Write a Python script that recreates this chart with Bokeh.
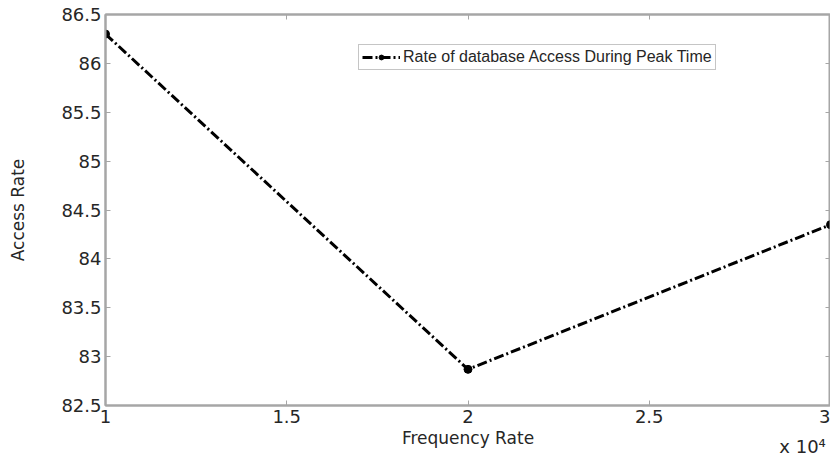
from bokeh.plotting import figure
from bokeh.models import Range1d, FixedTicker, LinearAxis, Legend, LegendItem, ColumnDataSource
from bokeh.embed import file_html
from bokeh.resources import INLINE

freq = [10000, 20000, 30000]
access = [86.3, 82.87, 84.35]
x_ticks = [10000, 15000, 20000, 25000, 30000]
x_tick_labels = ["1", "1.5", "2", "2.5", "3"]
y_ticks = [82.5, 83, 83.5, 84, 84.5, 85, 85.5, 86, 86.5]
y_tick_labels = ["82.5", "83", "83.5", "84", "84.5", "85", "85.5", "86", "86.5"]
series_name = "Rate of database Access During Peak Time"
x_label = "Frequency Rate"
y_label = "Access Rate"
x_multiplier = "x 10\u2074"
x_multiplier_pos = 29230

AX = "#a6a6a6"
TXT = "#262626"

p = figure(width=830, height=460, output_backend="svg", toolbar_location=None,
           x_range=Range1d(10000, 30000), y_range=Range1d(82.5, 86.5),
           min_border_left=105, min_border_right=0, min_border_top=14, min_border_bottom=55)
p.background_fill_color = "white"
p.border_fill_color = "white"
p.outline_line_color = AX
p.outline_line_width = 2
p.xgrid.visible = False
p.ygrid.visible = False

src = ColumnDataSource(dict(x=freq, y=access))
ln = p.line("x", "y", source=src, line_color="black", line_width=3, line_dash="10 3 2 3")
mk = p.scatter("x", "y", source=src, size=8, fill_color="black", line_color="black")

xa = p.xaxis[0]
xa.ticker = FixedTicker(ticks=x_ticks)
xa.major_label_overrides = {t: l for t, l in zip(x_ticks, x_tick_labels)}
ya = p.yaxis[0]
ya.ticker = FixedTicker(ticks=y_ticks)
ya.major_label_overrides = {t: l for t, l in zip(y_ticks, y_tick_labels)}

for ax in (xa, ya):
    ax.axis_line_color = AX
    ax.axis_line_width = 2
    ax.major_tick_line_color = AX
    ax.major_tick_in = 5
    ax.major_tick_out = 0
    ax.minor_tick_line_color = None
    ax.major_label_text_font = "DejaVu Sans"
    ax.major_label_text_font_size = "18px"
    ax.major_label_text_color = TXT
    ax.major_label_standoff = 4
    ax.axis_label_text_font = "DejaVu Sans"
    ax.axis_label_text_font_size = "17px"
    ax.axis_label_text_font_style = "normal"
    ax.axis_label_text_color = TXT

xa.axis_label = x_label
xa.axis_label_standoff = 2
ya.axis_label = y_label
ya.axis_label_standoff = 30

# multiplier text "x 10^4" as a tick label of an extra, invisible bottom axis
ma = LinearAxis(ticker=FixedTicker(ticks=[x_multiplier_pos]))
ma.major_label_overrides = {x_multiplier_pos: x_multiplier}
ma.axis_line_color = None
ma.major_tick_line_color = None
ma.minor_tick_line_color = None
ma.major_label_text_font = "DejaVu Sans"
ma.major_label_text_font_size = "18px"
ma.major_label_text_color = TXT
ma.major_label_standoff = -21
p.add_layout(ma, "below")

ra = LinearAxis(ticker=FixedTicker(ticks=y_ticks))
ra.major_label_overrides = {t: "" for t in y_ticks}
ta = LinearAxis(ticker=FixedTicker(ticks=x_ticks))
ta.major_label_overrides = {t: "" for t in x_ticks}
for ax in (ra, ta):
    ax.axis_line_color = AX
    ax.axis_line_width = 2
    ax.major_tick_line_color = AX
    ax.major_tick_in = 5
    ax.major_tick_out = 0
    ax.minor_tick_line_color = None
    ax.major_label_standoff = 0
p.add_layout(ra, "right")
p.add_layout(ta, "above")

legend = Legend(items=[LegendItem(label=series_name, renderers=[ln, mk])],
                location=(253, 335))
legend.label_text_font = "Liberation Sans"
legend.label_text_font_size = "16px"
legend.label_text_color = TXT
legend.border_line_color = "#8c8c8c"
legend.border_line_width = 1
legend.glyph_width = 38
legend.glyph_height = 12
legend.label_standoff = 3
legend.padding = 3
legend.margin = 0
legend.spacing = 0
legend.label_height = 14
p.add_layout(legend, "center")

open("out.html", "w").write(file_html(p, INLINE))
